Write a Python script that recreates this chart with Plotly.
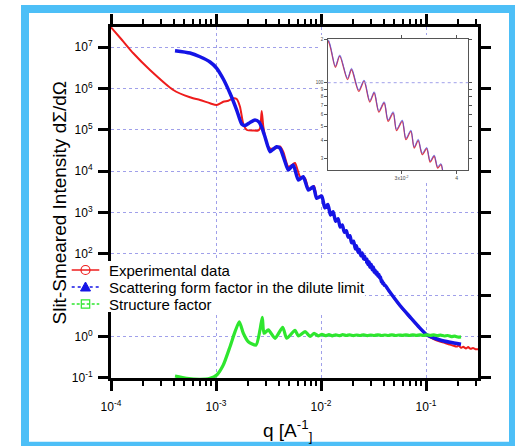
import plotly.graph_objects as go

# ---------------- data ----------------
# Experimental slit-smeared intensity
red_q = [1.0e-4, 1.273e-4, 1.631e-4, 2.352e-4, 3.92e-4, 5.65e-4, 7.04e-4, 8.77e-4, 1.016e-3, 1.173e-3,
         1.309e-3, 1.462e-3, 1.574e-3, 1.692e-3, 1.820e-3, 1.973e-3, 2.265e-3, 2.512e-3, 2.624e-3, 2.724e-3,
         2.822e-3, 3.04e-3, 3.27e-3, 3.65e-3, 4.07e-3, 4.375e-3, 4.88e-3, 5.29e-3, 5.655e-3, 6.31e-3,
         7.04e-3, 7.69e-3, 8.58e-3, 9.15e-3, 1.01e-2, 1.09e-2, 1.16e-2, 1.23e-2, 1.30e-2, 1.377e-2,
         1.45e-2, 1.524e-2, 1.595e-2, 1.667e-2, 1.742e-2, 1.812e-2, 1.885e-2, 1.956e-2, 2.04e-2, 2.123e-2,
         2.172e-2, 2.262e-2, 2.31e-2, 2.399e-2, 2.466e-2, 2.541e-2, 2.60e-2, 2.664e-2, 2.739e-2, 2.796e-2,
         2.871e-2, 2.922e-2, 3.01e-2, 3.069e-2, 3.149e-2, 3.204e-2, 3.272e-2, 3.342e-2, 3.42e-2, 3.483e-2,
         3.556e-2, 3.622e-2, 3.685e-2, 3.76e-2, 3.815e-2, 3.88e-2, 3.94e-2, 4.01e-2, 4.07e-2, 4.40e-2,
         4.746e-2, 5.654e-2, 7.041e-2, 8.392e-2, 0.1022, 0.118, 0.1359, 0.150, 0.1693, 0.180,
         0.196, 0.205, 0.215, 0.226, 0.240, 0.252, 0.265, 0.280, 0.296, 0.313]
red_I = [2.99e7, 1.476e7, 7.05e6, 2.78e6, 9.12e5, 6.07e5, 5.22e5, 4.35e5, 3.95e5, 4.75e5,
         5.03e5, 5.74e5, 5.52e5, 3.60e5, 1.37e5, 9.82e4, 9.55e4, 9.55e4, 1.07e5, 2.83e5,
         1.18e5, 4.69e4, 3.51e4, 3.51e4, 3.92e4, 2.89e4, 1.27e4, 1.40e4, 1.56e4, 7.29e3,
         6.67e3, 3.48e3, 4.34e3, 2.30e3, 2.55e3, 1.30e3, 1.52e3, 850, 1000, 600,
         690, 435, 490, 325, 355, 248, 266, 183, 196, 128,
         153, 105, 123, 87, 102, 73.5, 84.8, 62.6, 72.3, 54.0,
         61.6, 46.5, 54.0, 40.3, 46.0, 35.2, 39.7, 31.7, 34.9, 28.1,
         30.9, 25.6, 27.0, 20.6, 21.8, 18.5, 19.3, 16.9, 17.0, 12.7,
         9.8, 5.4, 2.85, 1.72, 1.06, 0.86, 0.75, 0.70, 0.63, 0.60,
         0.565, 0.60, 0.53, 0.56, 0.51, 0.55, 0.50, 0.52, 0.49, 0.49]

# Form factor in the dilute limit
blue_q = [4.07e-4, 5.65e-4, 7.04e-4, 8.77e-4, 1.016e-3, 1.173e-3, 1.359e-3, 1.574e-3, 1.757e-3, 1.888e-3,
          2.108e-3, 2.35e-3, 2.567e-3, 2.742e-3, 2.93e-3, 3.27e-3, 3.53e-3, 3.78e-3, 4.07e-3, 4.54e-3,
          4.88e-3, 5.44e-3, 6.08e-3, 6.78e-3, 7.57e-3, 8.45e-3, 9.10e-3, 1.015e-2, 1.087e-2, 1.161e-2,
          1.232e-2, 1.304e-2, 1.377e-2, 1.452e-2, 1.524e-2, 1.595e-2, 1.667e-2, 1.742e-2, 1.812e-2, 1.885e-2,
          1.956e-2, 2.04e-2, 2.123e-2, 2.172e-2, 2.262e-2, 2.310e-2, 2.399e-2, 2.466e-2, 2.541e-2, 2.600e-2,
          2.664e-2, 2.739e-2, 2.796e-2, 2.871e-2, 2.922e-2, 3.010e-2, 3.069e-2, 3.149e-2, 3.204e-2, 3.272e-2,
          3.342e-2, 3.420e-2, 3.483e-2, 3.556e-2, 3.622e-2, 3.685e-2, 3.76e-2, 3.815e-2, 3.88e-2, 3.94e-2,
          4.01e-2, 4.07e-2, 4.40e-2, 4.746e-2, 5.654e-2, 7.041e-2, 8.392e-2, 0.1022, 0.1359, 0.1693,
          0.2154]
blue_I = [8.14e6, 7.16e6, 5.82e6, 4.34e6, 3.06e6, 1.68e6, 7.59e5, 2.99e5, 1.37e5, 1.26e5,
          1.49e5, 1.71e5, 1.53e5, 1.10e5, 6.65e4, 2.93e4, 3.41e4, 3.87e4, 3.55e4, 1.68e4,
          1.06e4, 1.40e4, 6.07e3, 7.29e3, 3.47e3, 4.18e3, 2.19e3, 2.49e3, 1282, 1549,
          863, 1032, 608, 699, 440, 497, 331, 360, 253, 272,
          185, 200, 130.6, 155.7, 107.3, 125.9, 89.0, 104.4, 75.0, 86.6,
          63.9, 73.8, 55.1, 62.9, 47.5, 55.1, 41.1, 46.9, 35.9, 40.5,
          32.4, 35.6, 28.7, 31.5, 26.1, 27.5, 21.0, 22.3, 18.9, 19.7,
          17.2, 17.4, 13.0, 10.0, 5.58, 2.94, 1.78, 1.08, 0.818, 0.719,
          0.643]

# Structure factor
green_q = [4.07e-4, 5.26e-4, 7.04e-4, 8.77e-4, 1.016e-3, 1.173e-3, 1.359e-3, 1.518e-3, 1.667e-3, 1.820e-3,
           2.03e-3, 2.404e-3, 2.624e-3, 2.76e-3, 2.865e-3, 3.15e-3, 3.65e-3, 4.318e-3, 4.713e-3, 5.655e-3,
           6.08e-3, 7.04e-3, 7.87e-3, 8.6e-3, 9.4e-3, 0.0102, 0.011, 0.0119, 0.0128, 0.0138,
           0.0149, 0.0161, 0.0174, 0.0188, 0.0203, 0.0219, 0.0237, 0.0256, 0.0276, 0.0298,
           0.0322, 0.0348, 0.0376, 0.0406, 0.0438, 0.0473, 0.0511, 0.0552, 0.0596, 0.0644,
           0.0695, 0.075, 0.081, 0.0875, 0.0945, 0.102, 0.110, 0.119, 0.128, 0.138,
           0.149, 0.161, 0.174, 0.188, 0.203, 0.2154]
green_S = [0.110, 0.0968, 0.0916, 0.0968, 0.1165, 0.203, 0.563, 1.30, 2.26, 1.19,
           0.743, 0.619, 1.43, 2.90, 1.19, 1.43, 0.899, 1.66, 0.899, 1.40,
           1.02, 1.30, 1.00, 1.18, 1.03, 1.12, 1.04, 1.10, 1.03, 1.09,
           1.04, 1.10, 1.05, 1.09, 1.04, 1.08, 1.05, 1.09, 1.04, 1.08,
           1.05, 1.09, 1.05, 1.08, 1.05, 1.09, 1.05, 1.08, 1.06, 1.09,
           1.05, 1.09, 1.06, 1.09, 1.05, 1.09, 1.06, 1.09, 1.04, 1.07,
           1.02, 1.05, 0.99, 1.01, 0.96, 0.97]

# tick labels
x_tickvals = [1e-4, 1e-3, 1e-2, 1e-1]
x_ticktext = ["10<sup>-4</sup>", "10<sup>-3</sup>", "10<sup>-2</sup>", "10<sup>-1</sup>"]
x_minorvals = [m * d for d in (1e-4, 1e-3, 1e-2) for m in range(2, 10)] + [0.2, 0.3]
y_tickvals = [1e-1, 1e0, 1e1, 1e2, 1e3, 1e4, 1e5, 1e6, 1e7]
y_ticktext = ["10<sup>-1</sup>", "10<sup>0</sup>", "10<sup>1</sup>", "10<sup>2</sup>", "10<sup>3</sup>",
              "10<sup>4</sup>", "10<sup>5</sup>", "10<sup>6</sup>", "10<sup>7</sup>"]
inset_xvals = [0.03, 0.04]
inset_xtext = ["3x10<sup>-2</sup>", "4"]
inset_yvals = [30, 40, 50, 60, 70, 80, 90, 100, 200]
inset_ytext = ["3", "4", "5", "6", "7", "8", "9", "100", "2"]

legend_labels = ["Experimental data", "Scattering form factor in the dilute limit", "Structure factor"]

# ---------------- layout geometry ----------------
W, H = 515, 446
ML, MR, MT, MB = 111, 37, 27, 68
PW, PH = W - ML - MR, H - MT - MB


def px(x):
    return (x - ML) / PW


def py(y):
    return (H - MB - y) / PH


FONT = "Arial, Liberation Sans, sans-serif"
RED, BLUE, GREEN = "#ee1c1c", "#1414e6", "#2ee62e"
GRID = "#a0a0ea"
FRAME = "#4dbff7"

fig = go.Figure()

fig.add_trace(go.Scatter(x=red_q, y=red_I, mode="lines", showlegend=False,
                         line=dict(color=RED, width=2, shape="spline", smoothing=0.6)))
fig.add_trace(go.Scatter(x=blue_q, y=blue_I, mode="lines", showlegend=False,
                         line=dict(color=BLUE, width=3.5, shape="spline", smoothing=0.6)))
fig.add_trace(go.Scatter(x=green_q, y=green_S, mode="lines", showlegend=False,
                         line=dict(color=GREEN, width=3.2, shape="spline", smoothing=0.6)))

# empty panel whose white background sits behind the inset
fig.add_trace(go.Scatter(x=[], y=[], xaxis="x2", yaxis="y2", showlegend=False, hoverinfo="skip"))

# inset: close-up of the oscillations
fig.add_trace(go.Scatter(x=red_q, y=red_I, mode="lines", showlegend=False, xaxis="x3", yaxis="y3",
                         line=dict(color="#e0404a", width=1.3, shape="spline", smoothing=0.8)))
fig.add_trace(go.Scatter(x=blue_q, y=blue_I, mode="lines", showlegend=False, xaxis="x3", yaxis="y3",
                         opacity=0.75,
                         line=dict(color="#4a4ae0", width=1.0, shape="spline", smoothing=0.8)))

axis_common = dict(
    type="log", showline=True, linecolor="black", linewidth=3, mirror="ticks",
    ticks="outside", ticklen=10, tickwidth=2.5, tickcolor="black",
    showgrid=True, gridcolor=GRID, griddash="dot", gridwidth=1,
    tickfont=dict(family=FONT, size=12, color="black"), tickmode="array",
)

fig.update_layout(
    width=W, height=H,
    margin=dict(l=ML, r=MR, t=MT, b=MB, autoexpand=False),
    paper_bgcolor="white", plot_bgcolor="white",
    font=dict(family=FONT, color="black"),
    showlegend=False,
    xaxis=dict(axis_common, range=[-4, -0.505], tickvals=x_tickvals, ticktext=x_ticktext,
               ticklabelstandoff=6,
               minor=dict(tickmode="array", tickvals=x_minorvals, ticks="outside", ticklen=5,
                          tickwidth=2, tickcolor="black", showgrid=False)),
    yaxis=dict(axis_common, range=[-1.007, 7.484], tickvals=y_tickvals, ticktext=y_ticktext,
               ticklabelstandoff=3),
    xaxis2=dict(domain=[px(318), 1.0], anchor="y2", visible=False, range=[0, 1], fixedrange=True),
    yaxis2=dict(domain=[py(180), py(35)], anchor="x2", visible=False, range=[0, 1], fixedrange=True),
    xaxis3=dict(type="log", domain=[px(327.7), px(468.3)], anchor="y3",
                range=[-1.6904, -1.3716], showline=True, linecolor="#555555", linewidth=1,
                mirror="ticks", ticks="outside", ticklen=3, tickwidth=1, tickcolor="#555555",
                tickmode="array", tickvals=inset_xvals, ticktext=inset_xtext,
                tickfont=dict(family=FONT, size=5, color="#444444"), showgrid=False),
    yaxis3=dict(type="log", domain=[py(170), py(39.3)], anchor="x3",
                range=[1.3945, 2.301], showline=True, linecolor="#555555", linewidth=1,
                mirror="ticks", ticks="outside", ticklen=2.5, tickwidth=1, tickcolor="#555555",
                tickmode="array", tickvals=inset_yvals, ticktext=inset_ytext,
                tickfont=dict(family=FONT, size=4.5, color="#444444"), showgrid=False),
)

shapes = []
# inset grid line at 100
shapes.append(dict(type="line", xref="x3 domain", yref="y3", x0=0, x1=1, y0=100, y1=100,
                   line=dict(color=GRID, width=1, dash="dot")))
# legend box
shapes.append(dict(type="rect", xref="paper", yref="paper", x0=px(68), x1=px(365),
                   y0=py(312), y1=py(261), fillcolor="white", line=dict(width=0), layer="above"))

rows = [270, 287, 304]
lx0, lx1, mx = 71.7, 99.3, 85.5
r = 4.5
# red: solid line, open circle
shapes.append(dict(type="line", xref="paper", yref="paper", x0=px(lx0), x1=px(lx1),
                   y0=py(rows[0]), y1=py(rows[0]), line=dict(color=RED, width=1.5), layer="above"))
shapes.append(dict(type="circle", xref="paper", yref="paper", x0=px(mx - r), x1=px(mx + r),
                   y0=py(rows[0] + r), y1=py(rows[0] - r), line=dict(color=RED, width=1.2), layer="above"))
# blue: dotted line, filled triangle
shapes.append(dict(type="line", xref="paper", yref="paper", x0=px(lx0), x1=px(lx1),
                   y0=py(rows[1]), y1=py(rows[1]), line=dict(color=BLUE, width=1.5, dash="dot"), layer="above"))
tri = "M {} {} L {} {} L {} {} Z".format(px(mx), py(rows[1] - 5), px(mx - 5), py(rows[1] + 4),
                                         px(mx + 5), py(rows[1] + 4))
shapes.append(dict(type="path", xref="paper", yref="paper", path=tri, fillcolor=BLUE,
                   line=dict(color=BLUE, width=1), layer="above"))
# green: dashed line, open square
shapes.append(dict(type="line", xref="paper", yref="paper", x0=px(lx0), x1=px(lx1),
                   y0=py(rows[2]), y1=py(rows[2]), line=dict(color=GREEN, width=1.5, dash="3px,2px"),
                   layer="above"))
shapes.append(dict(type="rect", xref="paper", yref="paper", x0=px(mx - 4.2), x1=px(mx + 4.2),
                   y0=py(rows[2] + 4.2), y1=py(rows[2] - 4.2), line=dict(color=GREEN, width=1.2),
                   layer="above"))
# outer frame
shapes.append(dict(type="rect", xref="paper", yref="paper", x0=px(25), x1=px(513),
                   y0=py(445.7), y1=py(9), line=dict(color=FRAME, width=8), layer="above"))
fig.update_layout(shapes=shapes)

annotations = []
for label, yrow in zip(legend_labels, rows):
    annotations.append(dict(text=label, xref="paper", yref="paper", x=px(106.7), y=py(yrow),
                            xanchor="left", yanchor="middle", showarrow=False,
                            font=dict(family=FONT, size=15, color="black")))
annotations.append(dict(text="Slit-Smeared Intensity d\u03a3/d\u03a9", xref="paper", yref="paper",
                        x=px(59), y=py(202.5), xanchor="center", yanchor="middle", textangle=-90,
                        showarrow=False, font=dict(family=FONT, size=19, color="black")))
annotations.append(dict(text="q [A<sup>-1</sup><sub>]</sub>", xref="paper", yref="paper",
                        x=px(287), y=py(430), xanchor="center", yanchor="middle",
                        showarrow=False, font=dict(family=FONT, size=19, color="black")))
fig.update_layout(annotations=annotations)

fig.write_html("out.html")
